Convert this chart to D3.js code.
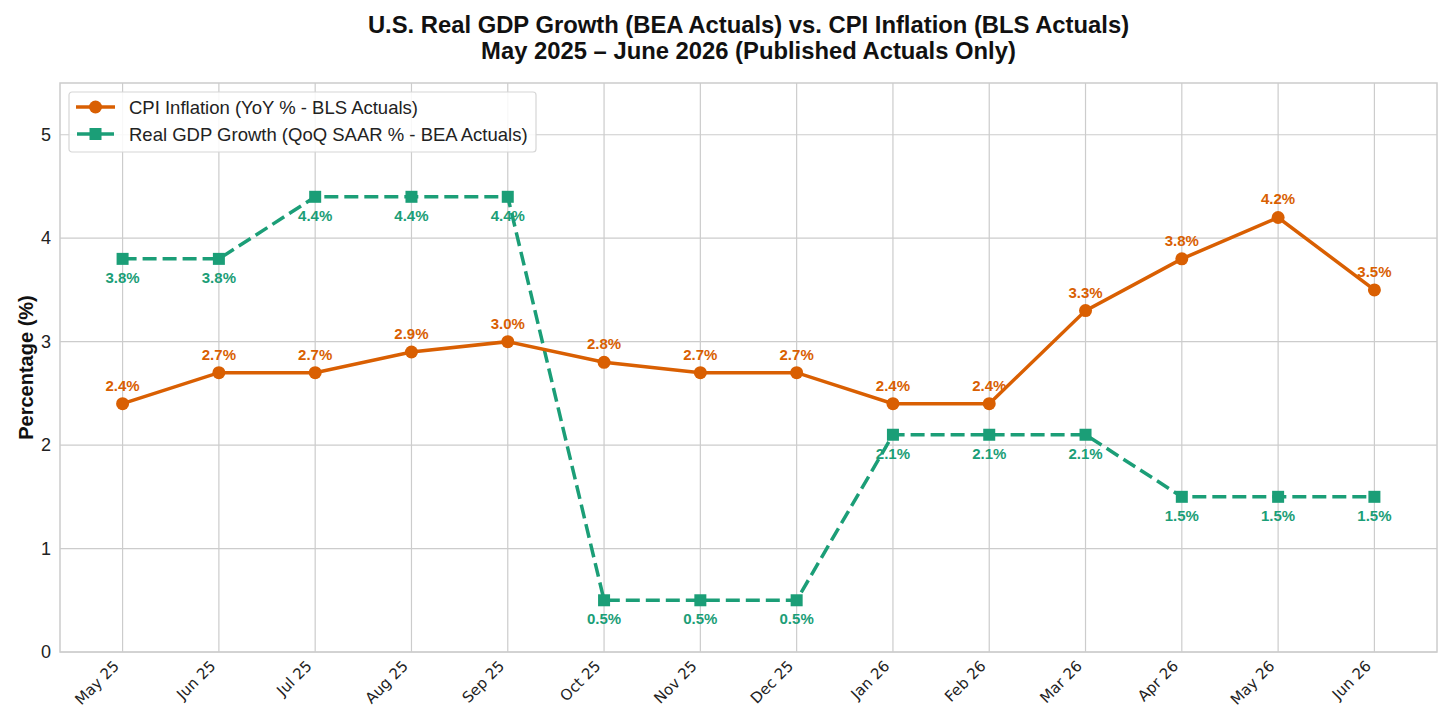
<!DOCTYPE html>
<html>
<head>
<meta charset="utf-8">
<script src="https://cdn.jsdelivr.net/npm/d3@7"></script>
<style>
  body { margin: 0; background: #fff; }
  svg { font-family: "Liberation Sans", Arial, sans-serif; }
</style>
</head>
<body>
<svg id="chart" width="1456" height="728"></svg>
<script>
// chart data
var months = ["May 25","Jun 25","Jul 25","Aug 25","Sep 25","Oct 25","Nov 25","Dec 25","Jan 26","Feb 26","Mar 26","Apr 26","May 26","Jun 26"];
var cpi = [2.4,2.7,2.7,2.9,3.0,2.8,2.7,2.7,2.4,2.4,3.3,3.8,4.2,3.5];
var gdp = [3.8,3.8,4.4,4.4,4.4,0.5,0.5,0.5,2.1,2.1,2.1,1.5,1.5,1.5];
var yTicks = [0,1,2,3,4,5];
var titleLines = ["U.S. Real GDP Growth (BEA Actuals) vs. CPI Inflation (BLS Actuals)", "May 2025 \u2013 June 2026 (Published Actuals Only)"];
var legendLabels = ["CPI Inflation (YoY % - BLS Actuals)", "Real GDP Growth (QoQ SAAR % - BEA Actuals)"];

var orange = "#d95f02", green = "#1b9e77", gridc = "#cccccc";
var m = {left: 60, right: 1437, top: 83, bottom: 652};

var svg = d3.select("#chart");

var x = d3.scaleLinear()
    .domain([-0.65, months.length - 1 + 0.65])
    .range([m.left, m.right]);
var y = d3.scaleLinear().domain([0, 5.5]).range([m.bottom, m.top]);

// grid
var g = svg.append("g");
g.selectAll(".vg").data(months).enter().append("line")
    .attr("x1", function(d,i){ return x(i); }).attr("x2", function(d,i){ return x(i); })
    .attr("y1", m.top).attr("y2", m.bottom)
    .attr("stroke", gridc).attr("stroke-width", 1.2);
g.selectAll(".hg").data(yTicks).enter().append("line")
    .attr("x1", m.left).attr("x2", m.right)
    .attr("y1", function(d){ return y(d); }).attr("y2", function(d){ return y(d); })
    .attr("stroke", gridc).attr("stroke-width", 1.2);
g.append("rect")
    .attr("x", m.left).attr("y", m.top)
    .attr("width", m.right - m.left).attr("height", m.bottom - m.top)
    .attr("fill", "none").attr("stroke", gridc).attr("stroke-width", 1.5);

// axes
var yAxis = d3.axisLeft(y).tickValues(yTicks).tickSize(0).tickPadding(9).tickFormat(d3.format("d"));
var ya = svg.append("g").attr("transform", "translate(" + m.left + ",0)").call(yAxis);
ya.select(".domain").remove();
ya.selectAll("text").attr("font-size", 18).attr("fill", "#222").attr("font-family", "Liberation Sans, Arial, sans-serif");

var xAxis = d3.axisBottom(x).tickValues(d3.range(months.length)).tickSize(0).tickFormat(function(i){ return months[i]; });
var xa = svg.append("g").attr("transform", "translate(0," + m.bottom + ")").call(xAxis);
xa.select(".domain").remove();
xa.selectAll("text")
    .attr("font-size", 15).attr("fill", "#222").attr("font-family", "DejaVu Sans, sans-serif")
    .attr("text-anchor", "end")
    .attr("dy", null).attr("y", 0)
    .attr("transform", "translate(-3,15) rotate(-45)");

// y label
svg.append("text")
    .attr("transform", "translate(33," + ((m.top + m.bottom) / 2) + ") rotate(-90)")
    .attr("text-anchor", "middle")
    .attr("font-size", 20).attr("font-weight", "bold").attr("fill", "#111")
    .text("Percentage (%)");

// title
svg.selectAll(".title").data(titleLines).enter().append("text")
    .attr("x", (m.left + m.right) / 2)
    .attr("y", function(d,i){ return 33 + i * 25.5; })
    .attr("text-anchor", "middle")
    .attr("font-size", 23.8).attr("font-weight", "bold").attr("fill", "#111")
    .text(function(d){ return d; });

var line = d3.line().x(function(d,i){ return x(i); }).y(function(d){ return y(d); });

// GDP series
svg.append("path").datum(gdp)
    .attr("d", line).attr("fill", "none")
    .attr("stroke", green).attr("stroke-width", 3.5).attr("stroke-dasharray", "14,6");
svg.selectAll(".gdpm").data(gdp).enter().append("rect")
    .attr("x", function(d,i){ return x(i) - 6; })
    .attr("y", function(d){ return y(d) - 6; })
    .attr("width", 12).attr("height", 12)
    .attr("fill", green);

// CPI series
svg.append("path").datum(cpi)
    .attr("d", line).attr("fill", "none")
    .attr("stroke", orange).attr("stroke-width", 3.5);
svg.selectAll(".cpim").data(cpi).enter().append("circle")
    .attr("cx", function(d,i){ return x(i); })
    .attr("cy", function(d){ return y(d); })
    .attr("r", 6.5).attr("fill", orange);

// value labels
svg.selectAll(".cpil").data(cpi).enter().append("text")
    .attr("x", function(d,i){ return x(i); })
    .attr("y", function(d){ return y(d) - 13; })
    .attr("text-anchor", "middle")
    .attr("font-size", 15).attr("font-weight", "bold").attr("fill", orange)
    .text(function(d){ return d.toFixed(1) + "%"; });
svg.selectAll(".gdpl").data(gdp).enter().append("text")
    .attr("x", function(d,i){ return x(i); })
    .attr("y", function(d){ return y(d) + 24; })
    .attr("text-anchor", "middle")
    .attr("font-size", 15).attr("font-weight", "bold").attr("fill", green)
    .text(function(d){ return d.toFixed(1) + "%"; });

// legend
var lg = svg.append("g").attr("transform", "translate(69,92)");
lg.append("rect")
    .attr("width", 467).attr("height", 60).attr("rx", 3)
    .attr("fill", "#fff").attr("fill-opacity", 0.85)
    .attr("stroke", "#d6d6d6").attr("stroke-width", 1.2);
lg.append("line").attr("x1", 7).attr("x2", 46).attr("y1", 15).attr("y2", 15)
    .attr("stroke", orange).attr("stroke-width", 3.5);
lg.append("circle").attr("cx", 26.5).attr("cy", 15).attr("r", 6.5).attr("fill", orange);
lg.append("line").attr("x1", 8).attr("x2", 45).attr("y1", 42).attr("y2", 42)
    .attr("stroke", green).attr("stroke-width", 3.5);
lg.append("rect").attr("x", 20.5).attr("y", 36).attr("width", 12).attr("height", 12).attr("fill", green);
lg.selectAll(".lt").data(legendLabels).enter().append("text")
    .attr("x", 60).attr("y", function(d,i){ return 21.5 + i * 27; })
    .attr("font-size", 18.5).attr("fill", "#222")
    .text(function(d){ return d; });
</script>
</body>
</html>
